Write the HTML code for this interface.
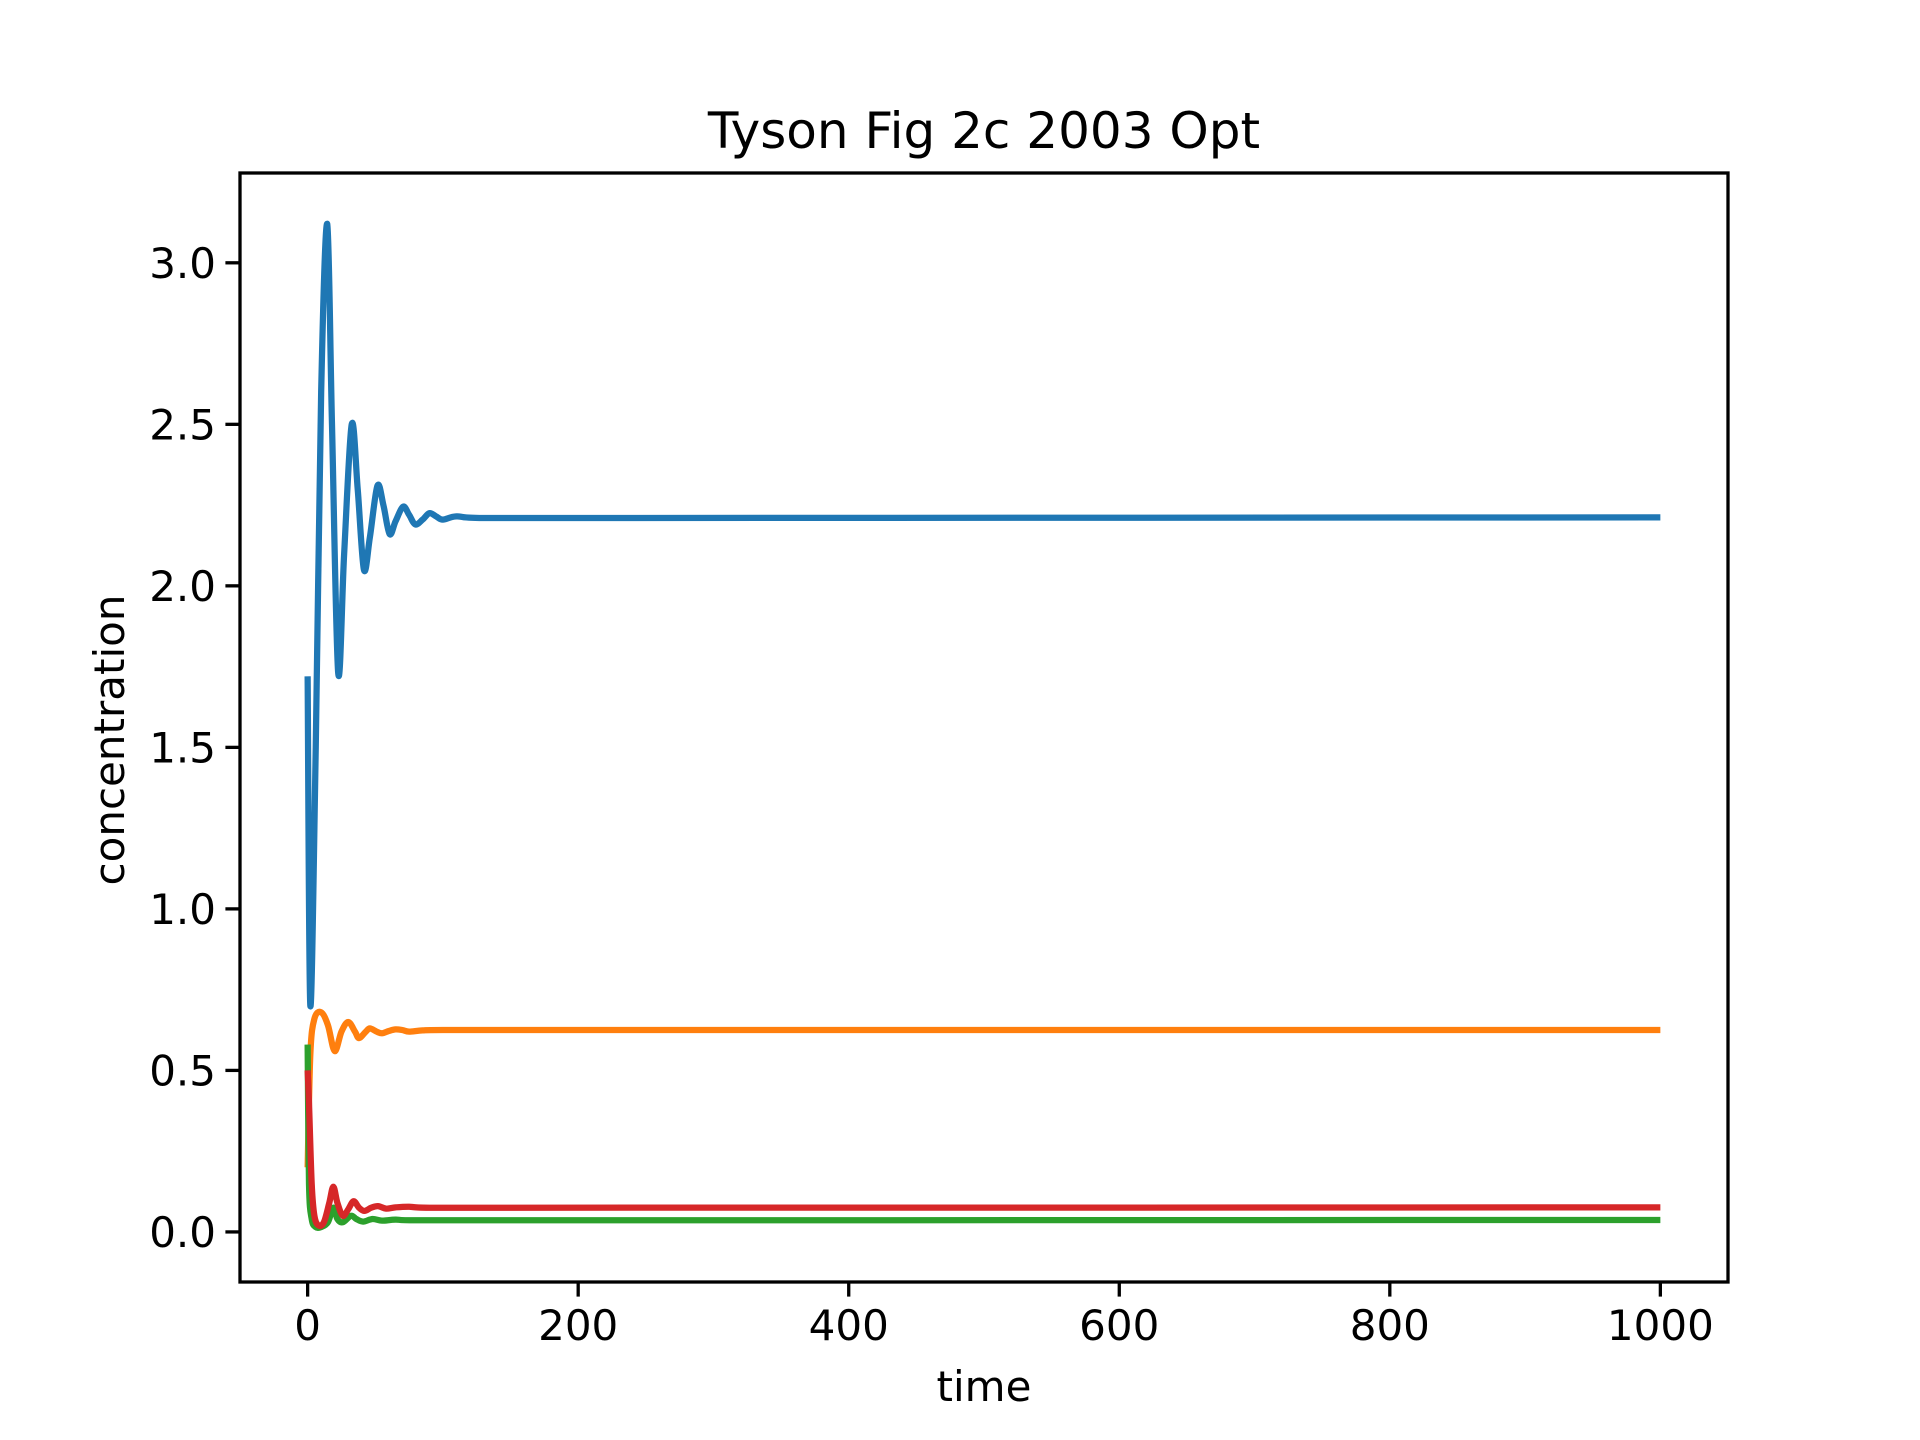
<!DOCTYPE html>
<html><head><meta charset="utf-8">
<style>
html,body{margin:0;padding:0;background:#fff;overflow:hidden;}
svg{display:block;}
svg text{font-family:"DejaVu Sans","Liberation Sans",sans-serif;fill:#000;}
</style></head>
<body>
<svg id="chart" width="1920" height="1440" viewBox="0 0 1920 1440" xmlns="http://www.w3.org/2000/svg">
<rect width="1920" height="1440" fill="#fff"/>
<text x="984" y="148" font-size="50" text-anchor="middle">Tyson Fig 2c 2003 Opt</text>
<g id="plot"></g>
<text x="984" y="1401" font-size="42" text-anchor="middle">time</text>
<text transform="translate(124,740) rotate(-90)" font-size="42" text-anchor="middle">concentration</text>
</svg>
<script>
const xTicks = [0,200,400,600,800,1000];
const yTicks = [0.0,0.5,1.0,1.5,2.0,2.5,3.0];
const yTickLabels = ["0.0","0.5","1.0","1.5","2.0","2.5","3.0"];
const blueT = [0,2,6,10,14.5,18,22.6,27,32.6,37,41.6,46,51.6,56,60.6,65,70.6,75,79.6,85,90,95,100,110,130,1000];
const blueV = [1.72,0.70,1.5,2.6,3.12,2.5,1.73,2.1,2.5,2.3,2.05,2.15,2.31,2.25,2.16,2.2,2.245,2.22,2.19,2.205,2.225,2.215,2.205,2.215,2.21,2.212];
const orangeT = [0,2,5,10,15,20,25,30,35,38,43,46,51,55,60,65,70,75,85,100,1000];
const orangeV = [0.2,0.55,0.66,0.68,0.64,0.56,0.62,0.65,0.62,0.60,0.62,0.63,0.62,0.615,0.622,0.627,0.625,0.62,0.624,0.625,0.625];
const greenT = [0,1,3,6,10,15,19,22,26,32,36,41,48,55,65,80,1000];
const greenV = [0.58,0.15,0.04,0.015,0.015,0.03,0.075,0.04,0.03,0.05,0.04,0.032,0.04,0.035,0.038,0.036,0.037];
const redT = [0,1,3,5,8,12,16,19,22,26,30,34,38,42,47,52,58,65,75,90,1000];
const redV = [0.5,0.4,0.15,0.05,0.02,0.03,0.09,0.14,0.09,0.05,0.07,0.095,0.075,0.065,0.075,0.08,0.072,0.076,0.078,0.075,0.076];

const L=240,R=1728,T=173,B=1282;
const xMin=-50,xMax=1050,yMin=-0.155,yMax=3.278;
const X=v=>L+(v-xMin)/(xMax-xMin)*(R-L);
const Y=v=>B-(v-yMin)/(yMax-yMin)*(B-T);
const NS="http://www.w3.org/2000/svg";
const g=document.getElementById('plot');
function mk(tag,attrs){const e=document.createElementNS(NS,tag);for(const k in attrs)e.setAttribute(k,attrs[k]);g.appendChild(e);return e;}
function pathFor(ts,vs){
  const p=ts.map((t,i)=>[X(t),Y(vs[i])]);
  let d="M"+p[0][0]+","+p[0][1];
  for(let i=0;i<p.length-1;i++){
    const p0=p[i-1]||p[i],p1=p[i],p2=p[i+1],p3=p[i+2]||p2;
    const c1=[p1[0]+(p2[0]-p0[0])/6,p1[1]+(p2[1]-p0[1])/6];
    const c2=[p2[0]-(p3[0]-p1[0])/6,p2[1]-(p3[1]-p1[1])/6];
    if(c1[0]>p2[0])c1[0]=p2[0];if(c2[0]<p1[0])c2[0]=p1[0];
    d+=" C"+c1[0]+","+c1[1]+" "+c2[0]+","+c2[1]+" "+p2[0]+","+p2[1];
  }
  return d;
}
const series=[["series-blue",blueT,blueV,"#1f77b4"],["series-orange",orangeT,orangeV,"#ff7f0e"],["series-green",greenT,greenV,"#2ca02c"],["series-red",redT,redV,"#d62728"]];
const clip=mk('clipPath',{id:'cp'});
const cr=document.createElementNS(NS,'rect');cr.setAttribute('x',L);cr.setAttribute('y',T);cr.setAttribute('width',R-L);cr.setAttribute('height',B-T);clip.appendChild(cr);
for(const s of series){
  const e=mk('path',{d:pathFor(s[1],s[2]),fill:'none',stroke:s[3],'stroke-width':6.25,'stroke-linejoin':'round','clip-path':'url(#cp)'});
  
  
}
const frame=mk('rect',{x:L,y:T,width:R-L,height:B-T,fill:'none',stroke:'#000','stroke-width':3.3});


xTicks.forEach(v=>{
  const x=X(v);
  const t=mk('line',{x1:x,x2:x,y1:B,y2:B+14.6,stroke:'#000','stroke-width':3.3});
  
  
  const l=mk('text',{x:x,y:B+58,'font-size':42,'text-anchor':'middle'});
  l.textContent=String(v);
  
  
});
yTicks.forEach((v,i)=>{
  const y=Y(v);
  const t=mk('line',{x1:L-14.6,x2:L,y1:y,y2:y,stroke:'#000','stroke-width':3.3});
  
  
  const l=mk('text',{x:L-24,y:y+15,'font-size':42,'text-anchor':'end'});
  l.textContent=yTickLabels[i];
  
  
});
</script>
</body></html>
